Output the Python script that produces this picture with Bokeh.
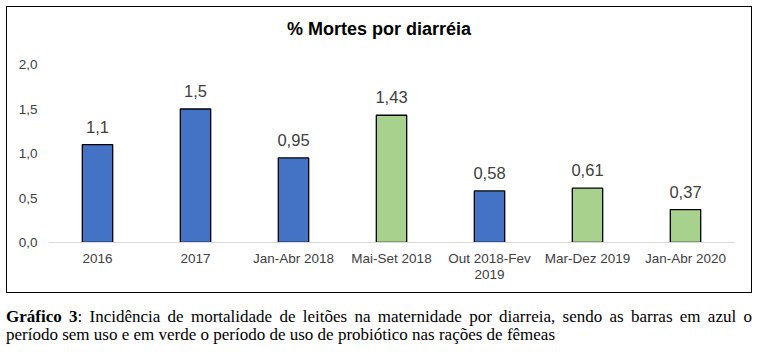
from bokeh.plotting import figure
from bokeh.models import (Range1d, FactorRange, FixedTicker,
                          Div, ColumnDataSource, CustomJSTickFormatter, CategoricalAxis)
from bokeh.layouts import column
from bokeh.embed import file_html
from bokeh.resources import INLINE
from bokeh.core.properties import value

# ---- data ----
categories = ["2016", "2017", "Jan-Abr 2018", "Mai-Set 2018",
              "Out 2018-Fev 2019", "Mar-Dez 2019", "Jan-Abr 2020"]
x_tick_line1 = ["2016", "2017", "Jan-Abr 2018", "Mai-Set 2018",
                "Out 2018-Fev", "Mar-Dez 2019", "Jan-Abr 2020"]
x_tick_line2 = ["", "", "", "", "2019", "", ""]
mortes = [1.1, 1.5, 0.95, 1.43, 0.58, 0.61, 0.37]
value_labels = ["1,1", "1,5", "0,95", "1,43", "0,58", "0,61", "0,37"]
probiotico = [False, False, False, True, False, True, True]
y_ticks = [0.0, 0.5, 1.0, 1.5, 2.0]
y_tick_labels = ["0,0", "0,5", "1,0", "1,5", "2,0"]
title_text = "% Mortes por diarréia"
caption_bold = "Gráfico 3"
caption_rest = (": Incidência de mortalidade de leitões na maternidade por diarreia, "
                "sendo as barras em azul o período sem uso e em verde o período de uso "
                "de probiótico nas rações de fêmeas")

BLUE = "#4472C4"
GREEN = "#A9D18E"
TXT = "#404040"

src = ColumnDataSource(dict(
    x=categories,
    top=mortes,
    label=value_labels,
    color=[GREEN if g else BLUE for g in probiotico],
))

p = figure(width=744, height=241,
           x_range=FactorRange(*categories, range_padding=0),
           y_range=Range1d(0, 2.0),
           output_backend="svg", toolbar_location=None,
           min_border_left=41, min_border_right=17,
           min_border_top=13, min_border_bottom=50, margin=0)
p.outline_line_color = None
p.background_fill_color = "white"
p.border_fill_color = "white"
p.xgrid.visible = False
p.ygrid.visible = False

p.vbar(x="x", top="top", width=0.31, source=src,
       fill_color="color", line_color="black", line_width=1.3)
p.text(x="x", y="top", text="label", source=src,
       text_align="center", text_baseline="alphabetic", y_offset=-18,
       text_font=value("Liberation Sans"), text_font_size="16.5px",
       text_color=TXT)

# y axis
ya = p.yaxis[0]
ya.ticker = FixedTicker(ticks=y_ticks)
ya.formatter = CustomJSTickFormatter(
    args=dict(tvals=y_ticks, tlabels=y_tick_labels),
    code="""
    for (let i = 0; i < tvals.length; i++) {
        if (Math.abs(tvals[i] - tick) < 1e-9) return tlabels[i];
    }
    return '';
    """)
ya.axis_line_color = None
ya.major_tick_line_color = None
ya.minor_tick_line_color = None
ya.major_tick_out = 0
ya.major_label_standoff = 11
ya.major_label_text_font = "Liberation Sans"
ya.major_label_text_font_size = "13.5px"
ya.major_label_text_color = TXT

cat_code = """
const i = cats.indexOf(tick);
return i >= 0 ? labs[i] : '';
"""

# x axis (first line of labels)
xa = p.xaxis[0]
xa.formatter = CustomJSTickFormatter(args=dict(cats=categories, labs=x_tick_line1),
                                     code=cat_code)
xa.axis_line_color = "#D9D9D9"
xa.axis_line_width = 1
xa.major_tick_line_color = None
xa.minor_tick_line_color = None
xa.major_tick_out = 0
xa.major_label_standoff = 8
xa.major_label_text_font = "Liberation Sans"
xa.major_label_text_font_size = "13.5px"
xa.major_label_text_color = TXT

# second line of x labels
xa2 = CategoricalAxis(formatter=CustomJSTickFormatter(
    args=dict(cats=categories, labs=x_tick_line2), code=cat_code))
xa2.axis_line_color = None
xa2.major_tick_line_color = None
xa2.minor_tick_line_color = None
xa2.major_tick_out = 0
xa2.major_tick_in = 0
xa2.major_label_standoff = 1
xa2.major_label_text_font = "Liberation Sans"
xa2.major_label_text_font_size = "13.5px"
xa2.major_label_text_color = TXT
p.add_layout(xa2, "below")

title_div = Div(
    text=title_text, width=744, height=44, margin=0,
    styles={"font-family": "'Liberation Sans', Arial, sans-serif",
            "font-weight": "bold", "font-size": "18px",
            "line-height": "44px", "text-align": "center", "color": "black"})

boxed = column(title_div, p, spacing=0, margin=(6, 0, 0, 6),
               styles={"border": "1px solid black", "background": "white"})

caption = Div(
    text=f"<b>{caption_bold}</b>{caption_rest}",
    width=746, margin=(15, 0, 0, 6),
    styles={"font-family": "'Liberation Serif', 'Times New Roman', serif",
            "font-size": "17px", "line-height": "18px",
            "text-align": "justify", "color": "black"})

layout = column(boxed, caption, spacing=0)
open("out.html", "w").write(file_html(layout, INLINE))
